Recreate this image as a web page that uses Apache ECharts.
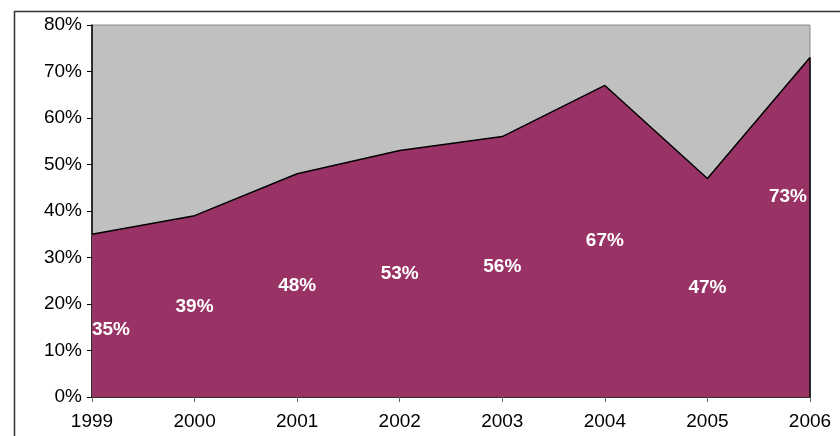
<!DOCTYPE html>
<html>
<head>
<meta charset="utf-8">
<script src="https://cdn.jsdelivr.net/npm/echarts@6/dist/echarts.min.js"></script>
<style>html,body{margin:0;padding:0;background:#fff;}#c{width:840px;height:436px;}</style>
</head>
<body>
<div id="c"></div>
<script>
const years = ['1999','2000','2001','2002','2003','2004','2005','2006'];
const shares = [35, 39, 48, 53, 56, 67, 47, 73];
const yTicks = [0, 10, 20, 30, 40, 50, 60, 70, 80];

const chart = echarts.init(document.getElementById('c'), null, {renderer: 'canvas'});
const font = 'Liberation Sans, Arial, sans-serif';
const labelData = shares.map((v, i) => {
  const d = {value: [years[i], v / 2]};
  if (i === 0) d.label = {offset: [19, 14]};
  if (i === shares.length - 1) d.label = {offset: [-22, -31]};
  return d;
});
chart.setOption({
  animation: false,
  graphic: [{
    type: 'rect', left: 12, top: 9, z: 100, silent: true,
    shape: {width: 900, height: 500},
    style: {fill: 'none', stroke: '#333', lineWidth: 1.5}
  }],
  grid: {left: 92, right: 30, top: 25, bottom: 39, show: true,
    backgroundColor: '#C0C0C0', borderColor: '#8a8a8a', borderWidth: 1},
  xAxis: {
    type: 'category', data: years, boundaryGap: false,
    axisLine: {lineStyle: {color: '#000', width: 1.5}},
    axisTick: {length: 5, lineStyle: {color: '#666'}},
    axisLabel: {color: '#000', fontSize: 19, fontFamily: font, margin: 15, interval: 0},
    splitLine: {show: false}
  },
  yAxis: {
    type: 'value', min: yTicks[0], max: yTicks[yTicks.length - 1], interval: 10,
    axisLine: {show: true, lineStyle: {color: '#000', width: 1.5}},
    axisTick: {show: true, length: 5, lineStyle: {color: '#000'}},
    axisLabel: {color: '#000', fontSize: 19, fontFamily: font, margin: 10, formatter: '{value}%'},
    splitLine: {show: false}
  },
  series: [{
    type: 'line', data: shares, symbol: 'none',
    lineStyle: {color: '#000', width: 1.5},
    areaStyle: {color: '#993366', opacity: 1},
    itemStyle: {color: '#993366'},
    markLine: {
      silent: true, symbol: ['none', 'none'], label: {show: false},
      lineStyle: {color: '#000', width: 1.5, type: 'solid'},
      data: [[{coord: [years[years.length - 1], 0]}, {coord: [years[years.length - 1], shares[shares.length - 1]]}]]
    }
  }, {
    type: 'scatter', data: labelData, symbolSize: 0, silent: true, z: 5,
    itemStyle: {opacity: 0},
    label: {show: true, position: 'inside', color: '#ffffff', fontWeight: 'bold', fontSize: 19, fontFamily: font,
      textBorderWidth: 0, opacity: 1,
      formatter: p => shares[p.dataIndex] + '%'}
  }]
});
</script>
</body>
</html>
